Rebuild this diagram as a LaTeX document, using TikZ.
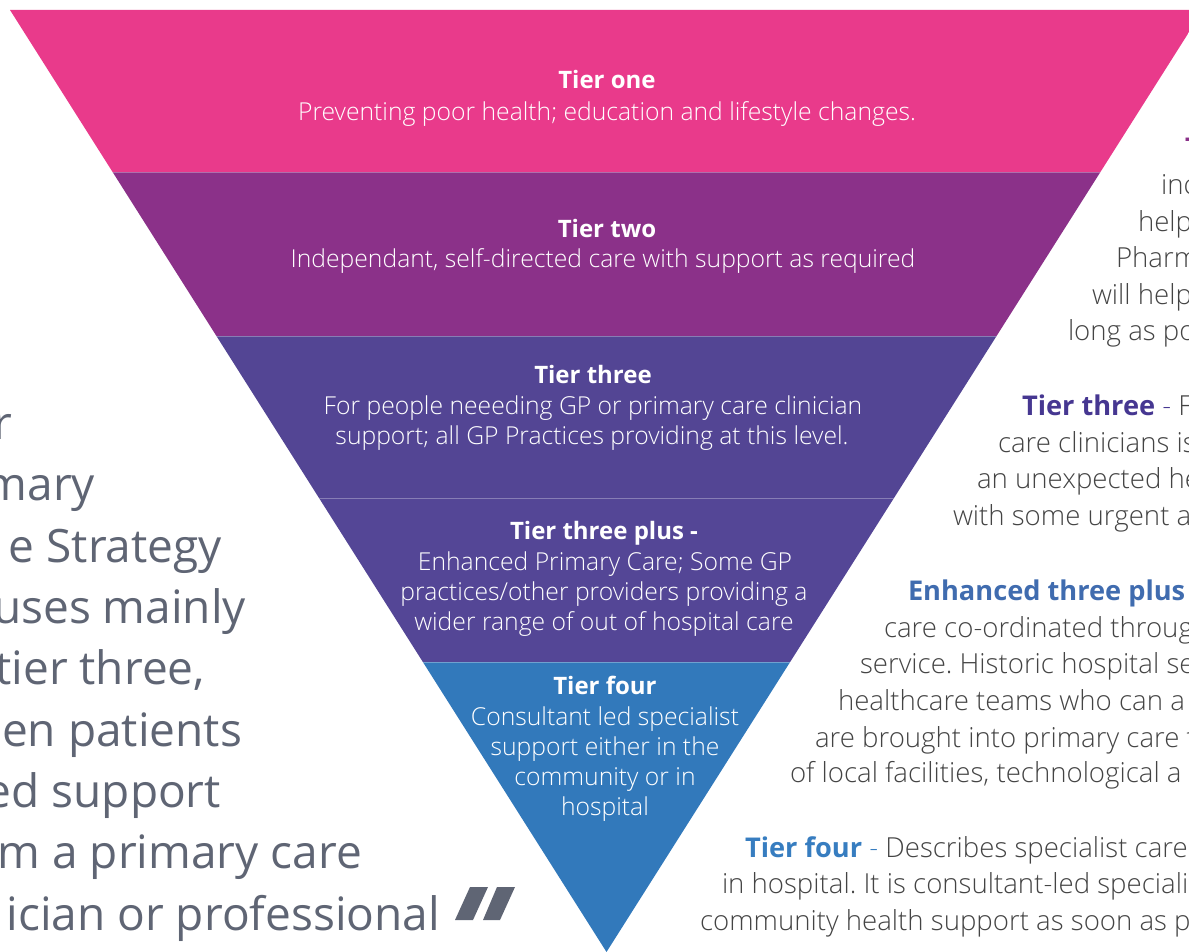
\documentclass[tikz,border=0pt]{standalone}
\usepackage{fontspec}
\setmainfont{Open Sans}[UprightFont={* Light}, BoldFont={* Bold}]
\newfontfamily\quotefont{Open Sans}
\definecolor{tierone}{HTML}{E93A8B}
\definecolor{tiertwo}{HTML}{8B3189}
\definecolor{tierthree}{HTML}{534594}
\definecolor{tierplus}{HTML}{544696}
\definecolor{tierfour}{HTML}{3279BB}
\definecolor{quotegrey}{HTML}{5F6574}
\definecolor{bodygrey}{HTML}{444444}
\definecolor{headthree}{HTML}{463791}
\definecolor{headplus}{HTML}{406CAF}
\definecolor{headfour}{HTML}{377DC0}
\frenchspacing
\begin{document}
\begin{tikzpicture}[x=1pt,y=-1pt,
  every node/.style={inner sep=0pt, outer sep=0pt},
  tierhead/.style={anchor=base, text=white, font=\fontsize{24}{28}\selectfont\bfseries},
  tierbody/.style={anchor=base, text=white, font=\fontsize{24.7}{28}\selectfont},
  sidetext/.style={anchor=base west, text=bodygrey, font=\fontsize{27.6}{32}\selectfont},
  sidehead/.style={anchor=base west, font=\fontsize{27.2}{32}\selectfont\bfseries},
  quotetext/.style={anchor=base east, text=quotegrey, font=\quotefont\fontsize{46}{54}\selectfont},
  divider/.style={white, opacity=0.3, line width=0.8pt}]
\useasboundingbox (0,0) rectangle (1189,952);
\clip (0,0) rectangle (1189,952);

% inverted triangle split into five tiers
\coordinate (TL) at (10,10);
\coordinate (TR) at (1203,10);
\coordinate (AP) at (606.5,952);
\begin{scope}
  \clip (TL) -- (TR) -- (AP) -- cycle;
  \fill[tierone]   (0,0)   rectangle (1220,172);
  \fill[tiertwo]   (0,172) rectangle (1220,336);
  \fill[tierthree] (0,336) rectangle (1220,498);
  \fill[tierplus]  (0,498) rectangle (1220,662);
  \fill[tierfour]  (0,662) rectangle (1220,960);
  \draw[divider] (0,172) -- (1220,172);
  \draw[divider] (0,336) -- (1220,336);
  \draw[divider] (0,498) -- (1220,498);
  \draw[divider] (0,662) -- (1220,662);
\end{scope}

% tier labels
\node[tierhead] (h1) at (607,89) {Tier one};
\node[tierbody] (b1) at (607,121) {Preventing poor health; education and lifestyle changes.};
\node[tierhead] (h2) at (607,237) {Tier two};
\node[tierbody] (b2) at (603,268) {Independant, self-directed care with support as required};
\node[tierhead] (h3) at (593,383) {Tier three};
\node[tierbody] (b3a) at (593,414) {For people neeeding GP or primary care clinician};
\node[tierbody] (b3b) at (592,444) {support; all GP Practices providing at this level.};
\node[tierhead] (h4) at (604,539) {Tier three plus -};
\node[tierbody] (b4a) at (605,570) {Enhanced Primary Care; Some GP};
\node[tierbody] (b4b) at (604,600) {practices/other providers providing a};
\node[tierbody] (b4c) at (604,630) {wider range of out of hospital care};
\node[tierhead] (h5) at (605,694) {Tier four};
\node[tierbody] (b5a) at (605,725) {Consultant led specialist};
\node[tierbody] (b5b) at (605,755) {support either in the};
\node[tierbody] (b5c) at (605,785) {community or in};
\node[tierbody] (b5d) at (605,815) {hospital};

% right-hand descriptions
\node[sidehead, text=tiertwo] (r2h) at (1185,158) {Tier two};
\node[sidetext] (r2a) at (1161,195) {inc};
\node[sidetext] (r2b) at (1138,232) {help};
\node[sidetext] (r2c) at (1116,268) {Pharm};
\node[sidetext] (r2d) at (1092,304) {will help};
\node[sidetext] (r2e) at (1068,340) {long as po};

\node[sidetext] (r3h) at (1022,415) {\textcolor{headthree}{\fontsize{27.2}{32}\selectfont\bfseries Tier three} \textcolor{headthree}{-} F};
\node[sidetext] (r3a) at (998,452) {care clinicians is};
\node[sidetext] (r3b) at (977,488) {an unexpected he};
\node[sidetext] (r3c) at (953,525) {with some urgent a};

\node[sidehead, text=headplus] (r4h) at (908,600) {Enhanced three plus};
\node[sidetext] (r4a) at (884,637) {care co-ordinated throug};
\node[sidetext] (r4b) at (860,673) {service. Historic hospital se};
\node[sidetext] (r4c) at (838,710) {healthcare teams who can a};
\node[sidetext] (r4d) at (815,747) {are brought into primary care t};
\node[sidetext] (r4e) at (790,782) {of local facilities, technological a};

\node[sidetext] (r5h) at (745,857) {\textcolor{headfour}{\fontsize{27.2}{32}\selectfont\bfseries Tier four} \textcolor{headfour}{-} Describes specialist care};
\node[sidetext] (r5a) at (722,893) {in hospital. It is consultant-led specialis};
\node[sidetext] (r5b) at (700,930) {community health support as soon as p};

% left-hand quotation
\node[quotetext] (q1) at (12,439) {r};
\node[quotetext] (q2) at (95,500) {mary};
\node[quotetext] (q3) at (222,562) {e Strategy};
\node[quotetext] (q4) at (246,623) {uses mainly};
\node[quotetext] (q5) at (205,684) {tier three,};
\node[quotetext] (q6) at (242,746) {en patients};
\node[quotetext] (q7) at (221,807) {ed support};
\node[quotetext] (q8) at (362,868) {m a primary care};
\node[quotetext] (q9) at (440,930) {ician or professional};

% closing quotation mark
\fill[quotegrey] (470,887) -- (488,887) -- (473,920) -- (455,920) -- cycle;
\fill[quotegrey] (497,887) -- (515,887) -- (500,920) -- (483,920) -- cycle;
\end{tikzpicture}
\end{document}
